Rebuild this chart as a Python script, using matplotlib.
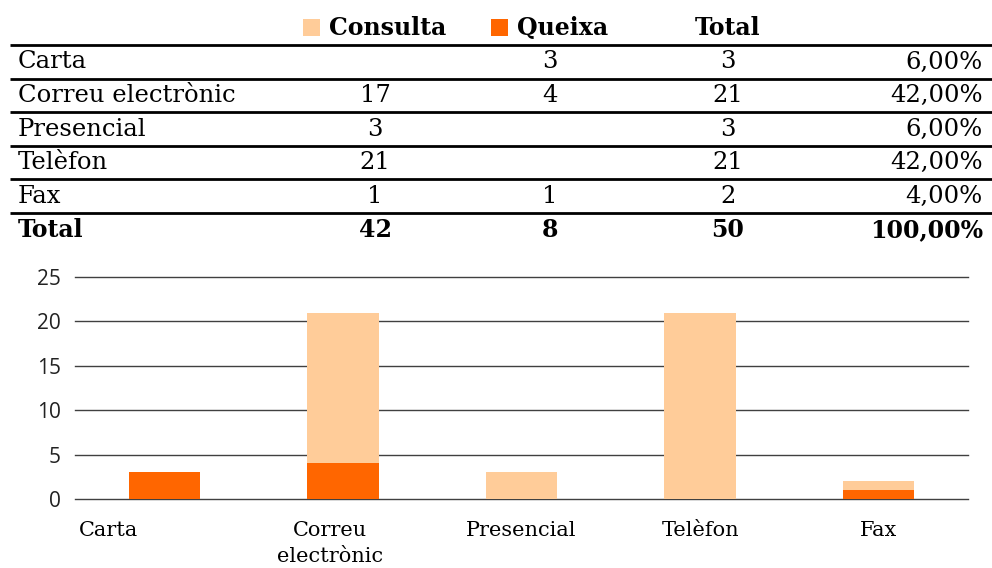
import numpy as np
import matplotlib
matplotlib.use("Agg")
from matplotlib import pyplot as plt
from matplotlib.patches import Rectangle

# Dades
canals = ["Carta", "Correu electrònic", "Presencial", "Telèfon", "Fax"]
etiquetes_eix = ["Carta", "Correu\nelectrònic", "Presencial", "Telèfon", "Fax"]
consulta = [0, 17, 3, 21, 1]
queixa = [3, 4, 0, 0, 1]
yticks = [0, 5, 10, 15, 20, 25]

c_consulta = "#FFCC99"
c_queixa = "#FF6600"
serif = "DejaVu Serif"
sans = "Open Sans"

W, H = 992, 568
fig = plt.figure(figsize=(W / 100, H / 100), dpi=100)

# Taula a la part de dalt (coordenades en píxels)
tb = fig.add_axes([0, 1 - 250 / H, 1, 250 / H])
tb.set_xlim(0, W)
tb.set_ylim(250, 0)
tb.axis("off")

x_cons, x_que, x_tot, x_pct = 375, 550, 728, 983
fs = 17.5
fsb = 17

# capçalera
tb.add_patch(Rectangle((303, 19), 17, 17, color=c_consulta, lw=0))
tb.text(329, 28, "Consulta", fontsize=fsb, fontweight="bold", family=serif, va="center")
tb.add_patch(Rectangle((491, 19), 17, 17, color=c_queixa, lw=0))
tb.text(517, 28, "Queixa", fontsize=fsb, fontweight="bold", family=serif, va="center")
tb.text(x_tot, 28, "Total", fontsize=fsb, fontweight="bold", family=serif, va="center", ha="center")

total = sum(consulta) + sum(queixa)
line_y = [45, 79, 112, 146, 179, 213]
for y in line_y:
    tb.plot([10, W], [y, y], color="black", lw=2, solid_capstyle="butt")

for i, nom in enumerate(canals):
    y = 62 + i * 33.6
    t = consulta[i] + queixa[i]
    tb.text(18, y, nom, fontsize=fs, family=serif, va="center")
    if consulta[i]:
        tb.text(x_cons, y, str(consulta[i]), fontsize=fs, family=serif, va="center", ha="center")
    if queixa[i]:
        tb.text(x_que, y, str(queixa[i]), fontsize=fs, family=serif, va="center", ha="center")
    tb.text(x_tot, y, str(t), fontsize=fs, family=serif, va="center", ha="center")
    tb.text(x_pct, y, ("%.2f%%" % (100 * t / total)).replace(".", ","),
            fontsize=fs, family=serif, va="center", ha="right")

y = 62 + 5 * 33.6
tb.text(18, y, "Total", fontsize=fsb, family=serif, va="center", fontweight="bold")
tb.text(x_cons, y, str(sum(consulta)), fontsize=fsb, family=serif, va="center", ha="center", fontweight="bold")
tb.text(x_que, y, str(sum(queixa)), fontsize=fsb, family=serif, va="center", ha="center", fontweight="bold")
tb.text(x_tot, y, str(total), fontsize=fsb, family=serif, va="center", ha="center", fontweight="bold")
tb.text(x_pct, y, "100,00%", fontsize=fsb, family=serif, va="center", ha="right", fontweight="bold")

# Gràfic de barres apilades
ax = fig.add_axes([75 / W, (H - 499) / H, 893 / W, (499 - 277) / H])
x = np.arange(len(canals))
ax.bar(x, queixa, width=0.4, color=c_queixa, zorder=3)
ax.bar(x, consulta, width=0.4, bottom=queixa, color=c_consulta, zorder=3)
ax.set_xlim(-0.5, len(canals) - 0.5)
ax.set_ylim(0, 25)
ax.set_yticks(yticks)
ax.yaxis.grid(True, color="#404040", lw=1)
for gl in ax.get_ygridlines():
    gl.set_clip_on(False)
ax.set_axisbelow(True)
for s in ax.spines.values():
    s.set_visible(False)
ax.tick_params(axis="y", length=0, pad=10, labelsize=15)
for lb in ax.get_yticklabels():
    lb.set_family(sans)
    lb.set_color("#222222")
ax.set_xticks([])

# etiquetes de categoria (Carta queda desplaçada a l'original)
despl = [-0.31, -0.07, 0, 0, 0]
for i, e in enumerate(etiquetes_eix):
    ax.text(i + despl[i], -2.5, e, fontsize=15, family=serif, ha="center", va="top",
            linespacing=1.45)

fig.savefig("out.png", dpi=100)
